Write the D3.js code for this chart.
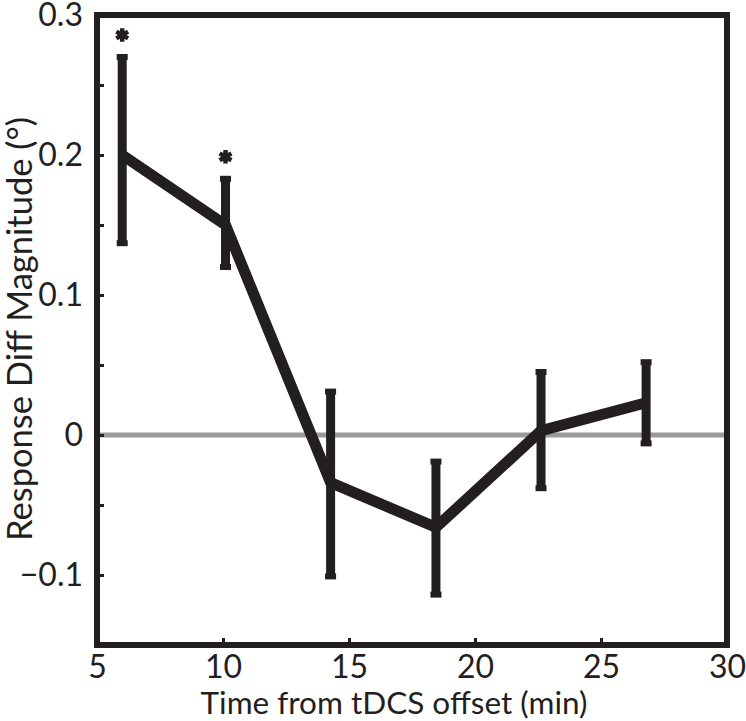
<!DOCTYPE html>
<html><head><meta charset="utf-8">
<script src="https://cdn.jsdelivr.net/npm/d3@7"></script>
<style>body{margin:0;background:#fff}</style>
</head><body>
<svg id="c" width="746" height="721"></svg>
<script>
const times = [6.0, 10.1, 14.27, 18.45, 22.62, 26.79];
const means = [0.200, 0.150, -0.034, -0.066, 0.003, 0.023];
const errTop = [0.270, 0.183, 0.031, -0.019, 0.045, 0.052];
const errBot = [0.137, 0.120, -0.101, -0.114, -0.038, -0.006];
const significant = [true, true, false, false, false, false];
const xTicks = [5, 10, 15, 20, 25, 30];
const yTicks = [-0.1, 0, 0.1, 0.2, 0.3];
const yMinor = [-0.15, -0.05, 0.05, 0.15, 0.25];

const ink = "#231f20";
const font = "Lato, 'Open Sans', sans-serif";
const svg = d3.select("#c");
const x = d3.scaleLinear().domain([5, 30]).range([97, 727]);
const y = d3.scaleLinear().domain([-0.15, 0.3]).range([645, 15]);

// zero line
svg.append("line").attr("x1", x(5)).attr("x2", x(30)).attr("y1", y(0)).attr("y2", y(0))
  .attr("stroke", "#9a9a9c").attr("stroke-width", 5);

// axes (ticks inward)
const xAxis = d3.axisBottom(x).tickValues(xTicks).tickSize(-7).tickPadding(10).tickFormat(d3.format("d"));
const gx = svg.append("g").attr("transform", `translate(0,${y(-0.15)})`).call(xAxis);
const yAxis = d3.axisLeft(y).tickValues(yTicks.concat(yMinor)).tickSize(-7).tickPadding(14)
  .tickFormat(d => yTicks.some(t => Math.abs(t - d) < 1e-9) ? (d === 0 ? "0" : d3.format(".1f")(d).replace("-", "\u2212")) : "");
const gy = svg.append("g").attr("transform", `translate(${x(5)},0)`).call(yAxis);
[gx, gy].forEach(g => {
  g.select(".domain").remove();
  g.selectAll(".tick line").attr("stroke", ink).attr("stroke-width", 3);
  g.selectAll(".tick text").attr("fill", ink).style("font-family", font).style("font-size", "32px");
});
gy.selectAll(".tick text").attr("dy", "0.33em");
gx.selectAll(".tick text").attr("dy", "0.71em");

// frame
svg.append("rect").attr("x", x(5)).attr("y", y(0.3)).attr("width", x(30) - x(5)).attr("height", y(-0.15) - y(0.3))
  .attr("fill", "none").attr("stroke", ink).attr("stroke-width", 6);

// error bars
const idx = d3.range(times.length);
svg.append("g").selectAll("line").data(idx).join("line")
  .attr("x1", i => x(times[i])).attr("x2", i => x(times[i]))
  .attr("y1", i => y(errTop[i])).attr("y2", i => y(errBot[i]))
  .attr("stroke", ink).attr("stroke-width", 9);
const caps = svg.append("g");
idx.forEach(i => {
  [errTop[i], errBot[i]].forEach(v => {
    caps.append("rect").attr("x", x(times[i]) - 5.5).attr("y", y(v) - 3).attr("width", 11).attr("height", 6).attr("fill", ink);
  });
});

// mean line
svg.append("path").datum(idx)
  .attr("d", d3.line().x(i => x(times[i])).y(i => y(means[i])))
  .attr("fill", "none").attr("stroke", ink).attr("stroke-width", 11).attr("stroke-linejoin", "miter");

// significance asterisks
svg.append("g").selectAll("path").data(idx.filter(i => significant[i])).join("path")
  .attr("transform", i => `translate(${x(times[i])},${y(errTop[i]) - 22})`)
  .attr("d", d3.symbol(d3.symbolAsterisk, 130)())
  .attr("fill", "none").attr("stroke", ink).attr("stroke-width", 4.5);

// axis labels
svg.append("text").attr("x", 394).attr("y", 714).attr("text-anchor", "middle")
  .attr("fill", ink).style("font-family", font).style("font-size", "31.5px")
  .text("Time from tDCS offset (min)");
svg.append("text").attr("transform", "translate(32,329) rotate(-90)").attr("text-anchor", "middle")
  .attr("fill", ink).style("font-family", font).style("font-size", "34.5px")
  .text("Response Diff Magnitude (\u00B0)");
</script>
</body></html>
